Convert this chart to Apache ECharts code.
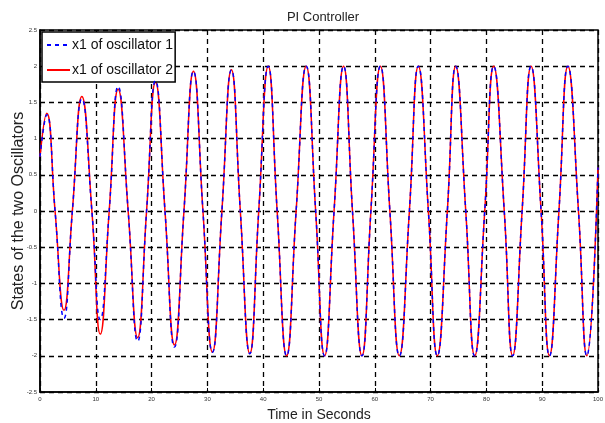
<!DOCTYPE html>
<html>
<head>
<meta charset="utf-8">
<script src="https://cdn.jsdelivr.net/npm/echarts@6/dist/echarts.min.js"></script>
<style>
html,body{margin:0;padding:0;background:#fff;}
#chart{width:605px;height:423px;}
</style>
</head>
<body>
<div id="chart"></div>
<script>
// Time samples (s) read at peaks, troughs and zero crossings
const time = [0, 1.2, 2.7, 4.3, 5.8, 7.5, 9.3, 10.8, 12.4, 14.0, 15.8, 17.5, 19.1, 20.7, 22.4,
  24.1, 25.8, 27.5, 29.2, 30.9, 32.6, 34.3, 35.9, 37.6, 39.2, 40.9, 42.5, 44.2, 45.9, 47.7,
  49.4, 51.0, 52.7, 54.4, 56.0, 57.7, 59.3, 61.0, 62.7, 64.4, 66.2, 67.8, 69.6, 71.2, 73.0,
  74.5, 76.3, 77.9, 79.7, 81.3, 83.2, 84.7, 86.4, 88.0, 89.8, 91.3, 93.0, 94.6, 96.5, 98.0, 100];
// x1 of oscillator 1 (blue dashed)
const osc1 = [0.75, 1.33, 0, -1.48, 0, 1.55, 0, -1.5, 0, 1.72, 0, -1.8, 0, 1.8, 0,
  -1.88, 0, 1.93, 0, -1.95, 0, 1.95, 0, -1.97, 0, 2.0, 0, -2.0, 0, 2.0,
  0, -2.0, 0, 2.0, 0, -2.0, 0, 2.0, 0, -2.0, 0, 2.0, 0, -2.0, 0,
  2.0, 0, -2.0, 0, 2.0, 0, -2.0, 0, 2.0, 0, -2.0, 0, 2.0, 0, -2.0, 0.6];
// x1 of oscillator 2 (red solid)
const osc2 = [0.75, 1.35, 0, -1.37, 0, 1.58, 0, -1.7, 0, 1.68, 0, -1.75, 0, 1.78, 0,
  -1.85, 0, 1.93, 0, -1.95, 0, 1.95, 0, -1.97, 0, 2.0, 0, -2.0, 0, 2.0,
  0, -2.0, 0, 2.0, 0, -2.0, 0, 2.0, 0, -2.0, 0, 2.0, 0, -2.0, 0,
  2.0, 0, -2.0, 0, 2.0, 0, -2.0, 0, 2.0, 0, -2.0, 0, 2.0, 0, -2.0, 0.6];
const seriesNames = ['x1 of oscillator 1', 'x1 of oscillator 2'];
const titleText = 'PI Controller';
const xName = 'Time in Seconds';
const yName = 'States of the two Oscillators';

const chart = echarts.init(document.getElementById('chart'), null, {renderer: 'canvas'});
const font = 'Liberation Sans, Arial, sans-serif';
const gridLine = {show: true, lineStyle: {color: '#000', type: [5, 4], width: 1.3}};
chart.setOption({
  backgroundColor: '#fff',
  animation: false,
  title: {text: titleText, left: 318, top: 6, textAlign: 'center',
    textStyle: {fontFamily: font, fontSize: 13, fontWeight: 'normal', color: '#222'}},
  grid: {left: 40, right: 7, top: 30, bottom: 31, containLabel: false, outerBoundsMode: 'none',
    show: true, borderColor: '#000', borderWidth: 1.5, backgroundColor: 'transparent'},
  legend: {
    orient: 'vertical', left: 42, top: 32, data: seriesNames,
    backgroundColor: '#fff', borderColor: '#000', borderWidth: 1.5, borderRadius: 0,
    padding: [6, 2, 5, 4], itemGap: 11, itemWidth: 23, itemHeight: 14,
    itemStyle: {opacity: 0},
    textStyle: {fontFamily: font, fontSize: 14, color: '#111', padding: [0, 0, 0, -3]}
  },
  xAxis: {
    type: 'value', min: 0, max: 100, interval: 10,
    name: xName, nameLocation: 'middle', nameGap: 16,
    nameTextStyle: {fontFamily: font, fontSize: 14, color: '#222'},
    axisLine: {show: true, onZero: false, lineStyle: {color: '#000', width: 1.5}},
    axisTick: {show: true, inside: true, length: 4, lineStyle: {color: '#000'}},
    axisLabel: {fontFamily: font, fontSize: 6, color: '#333', margin: 4},
    splitLine: gridLine
  },
  yAxis: {
    type: 'value', min: -2.5, max: 2.5, interval: 0.5,
    name: yName, nameLocation: 'middle', nameGap: 13, nameMoveOverlap: false,
    nameTextStyle: {fontFamily: font, fontSize: 16, color: '#222'},
    axisLine: {show: true, onZero: false, lineStyle: {color: '#000', width: 1.5}},
    axisTick: {show: true, inside: true, length: 4, lineStyle: {color: '#000'}},
    axisLabel: {fontFamily: font, fontSize: 6, color: '#333', margin: 3},
    splitLine: gridLine
  },
  series: [
    {name: seriesNames[1], type: 'line', data: time.map((t, i) => [t, osc2[i]]),
      smooth: 0.5, symbol: 'none', z: 3,
      lineStyle: {color: '#ff0000', width: 1.5}, itemStyle: {color: '#ff0000'}},
    {name: seriesNames[0], type: 'line', data: time.map((t, i) => [t, osc1[i]]),
      smooth: 0.5, symbol: 'none', z: 4,
      lineStyle: {color: '#0000ff', width: 1.5, type: [4, 4]}, itemStyle: {color: '#0000ff'}}
  ]
});
</script>
</body>
</html>
